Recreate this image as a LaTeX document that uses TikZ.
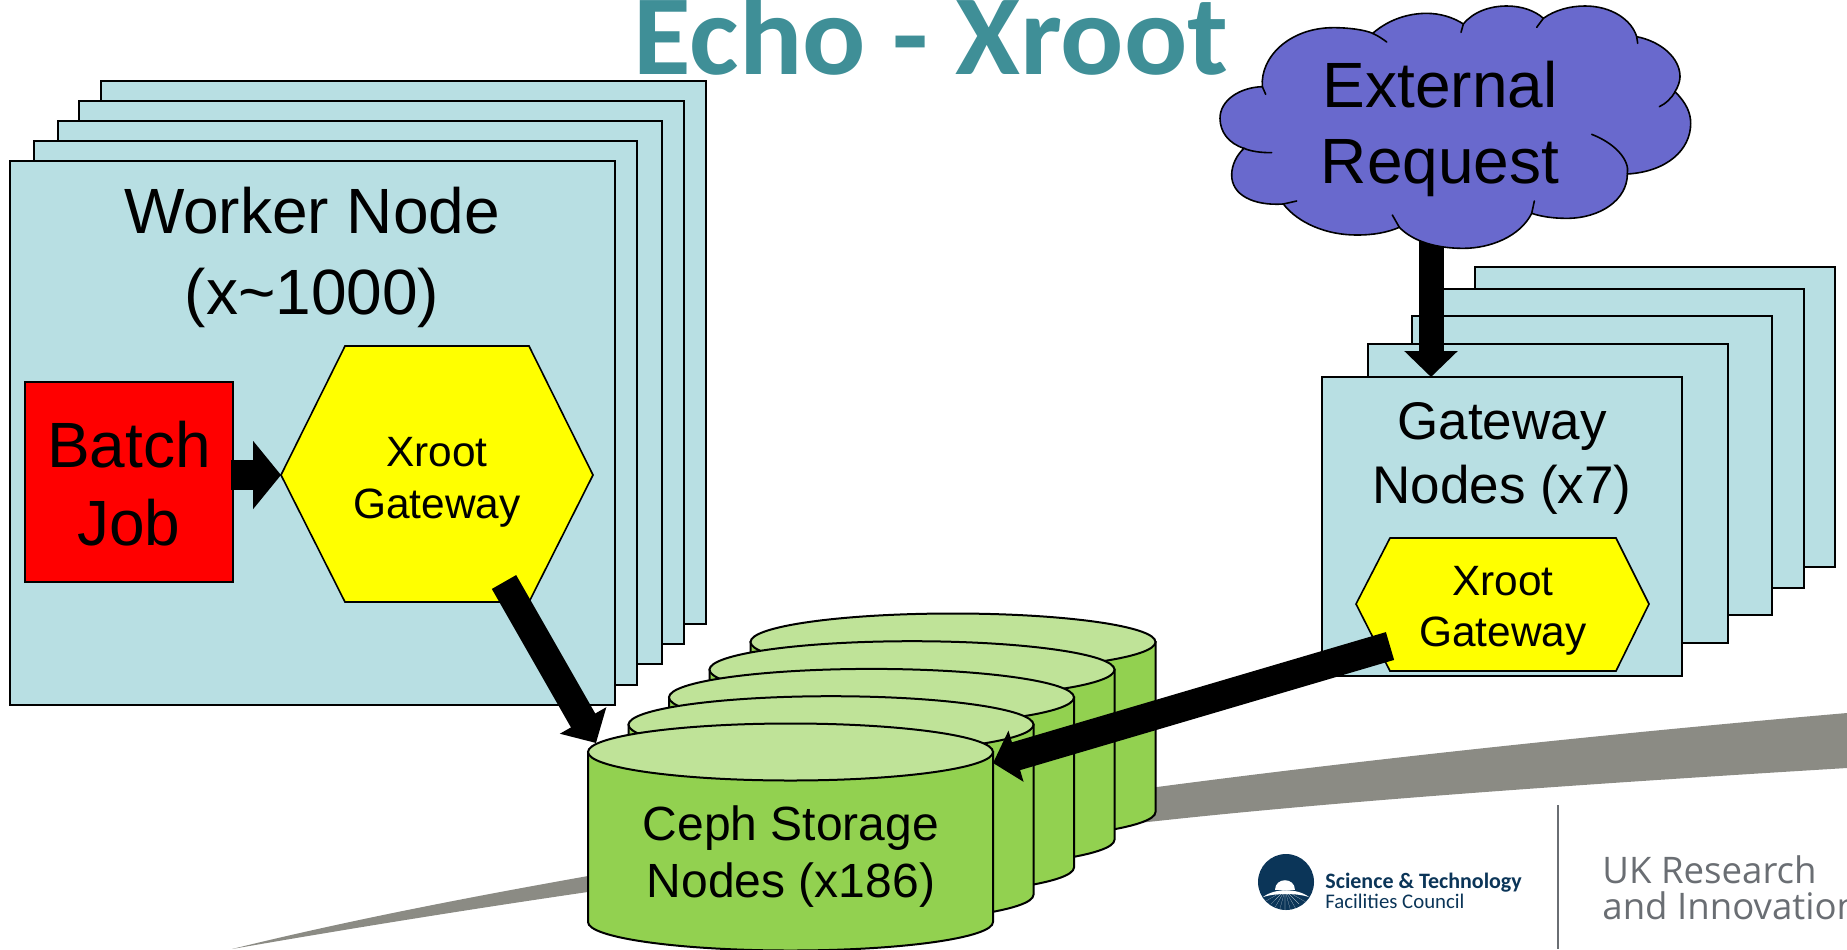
\documentclass[tikz,border=0pt]{standalone}
\usepackage{graphicx}
\usepackage{fontspec}
\setmainfont{Liberation Sans}
\newfontfamily\titlefont{Carlito}
\newfontfamily\brandfont{Open Sans}
\usetikzlibrary{arrows.meta,calc}
\definecolor{boxblue}{HTML}{B8DFE3}
\definecolor{cylside}{HTML}{92D150}
\definecolor{cyltop}{HTML}{BFE398}
\definecolor{cloudblue}{HTML}{6969CD}
\definecolor{titleteal}{HTML}{3F8F97}
\definecolor{swoosh}{HTML}{8B8B84}
\definecolor{navy}{HTML}{0B3558}
\definecolor{ukgrey}{HTML}{6A6E73}
\definecolor{hexyellow}{RGB}{255,255,0}
\definecolor{jobred}{RGB}{255,0,0}
\newcommand{\fs}[1]{\fontsize{\the\dimexpr #1pt/2\relax}{\the\dimexpr #1pt/2\relax}\selectfont}
\tikzset{
  x=0.5pt,y=-0.5pt,
  sheet/.style={draw=black,line width=1pt,fill=boxblue},
  hexa/.style={draw=black,line width=0.8pt,fill=hexyellow},
  big arrow/.style={draw=black,line width=#1,-{Triangle[length=13pt,width=26pt]}},
  big arrow/.default=14.5pt,
  txt/.style={inner sep=0pt,anchor=base,text=black},
}
\newcommand{\sheetbox}[4]{\path[sheet] (#1,#2) rectangle (#3,#4);}
\newcommand{\cyl}[2]{%
  \path[draw=black,line width=1pt,fill=cylside] (#1-202.5,#2) -- (#1-202.5,#2+170)
    .. controls (#1-202.5,#2+185.7) and (#1-111.8,#2+198.5) .. (#1,#2+198.5)
    .. controls (#1+111.8,#2+198.5) and (#1+202.5,#2+185.7) .. (#1+202.5,#2+170)
    -- (#1+202.5,#2) -- cycle;
  \path[draw=black,line width=1pt,fill=cyltop] (#1,#2) ellipse[x radius=202.5,y radius=28.5];}
\begin{document}
\begin{tikzpicture}
\useasboundingbox (0,0) rectangle (1847,949);
\clip (0,0) rectangle (1847,949);
% swoosh
\fill[swoosh] (232,949) .. controls (350,920) and (470,897) .. (588,876)
  .. controls (800,840) and (1000,805) .. (1157,787)
  .. controls (1400,755) and (1650,730) .. (1847,713)
  -- (1847,768) .. controls (1600,783) and (1350,800) .. (1157,821)
  .. controls (900,848) and (600,885) .. (232,949) -- cycle;
% title
\node[txt,text=titleteal,font={\titlefont\bfseries\fs{114}}] (title) at (931,74) {\scalebox{1.035}[1]{Echo - Xroot}};
% worker stack
\sheetbox{101}{81}{706}{624}
\sheetbox{79}{101}{684}{644}
\sheetbox{58}{121}{662}{664}
\sheetbox{34}{141}{637}{685}
\node[sheet,minimum width=302.5pt,minimum height=272pt,anchor=north west,inner sep=0pt,outer sep=0pt] (worker) at (10,161) {};
\node[txt,font=\fs{64}] (workerA) at (312,233) {Worker Node};
\node[txt,font=\fs{64}] (workerB) at (312,314) {(x\char`\~1000)};
\node[draw=black,line width=0.8pt,fill=jobred,minimum width=104pt,minimum height=100pt,anchor=north west,inner sep=0pt,outer sep=0pt] (batch) at (25,382) {};
\node[txt,font=\fs{64}] (batchA) at (129,467) {Batch};
\node[txt,font=\fs{64}] (batchB) at (129,545) {Job};
% worker gateway
\path[hexa] (281,475) -- (345,346) -- (529,346) -- (593,475) -- (529,602) -- (345,602) -- cycle;
\coordinate (wgwWest) at (281,475);
\coordinate (wgwOut) at (504,582);
\node[txt,font=\fs{42.4}] (wgwA) at (437,466) {Xroot};
\node[txt,font=\fs{42.4}] (wgwB) at (437,518) {Gateway};
\draw[big arrow=15pt,-{Triangle[length=14pt,width=33.5pt]},shorten <=-1pt] (batch.east |- wgwWest) -- (wgwWest);
% gateway stack
\sheetbox{1475}{267}{1835}{567}
\sheetbox{1443}{289}{1804}{588}
\sheetbox{1412}{316}{1772}{615}
\sheetbox{1368}{344}{1728}{643}
\node[sheet,minimum width=180pt,minimum height=149.5pt,anchor=north west,inner sep=0pt,outer sep=0pt] (gateway) at (1322,377) {};
\node[txt,font=\fs{53}] (gwA) at (1502,439) {Gateway};
\node[txt,font=\fs{53}] (gwB) at (1502,503) {Nodes (x7)};
\path[hexa] (1356,604) -- (1390,538) -- (1616,538) -- (1649,604) -- (1616,671) -- (1390,671) -- cycle;
\coordinate (ggwOut) at (1390,646);
\node[txt,font=\fs{42.4}] (ggwA) at (1503,595) {Xroot};
\node[txt,font=\fs{42.4}] (ggwB) at (1503,646) {Gateway};
% storage
\cyl{953}{642}
\cyl{912}{669.7}
\cyl{871.5}{697.4}
\cyl{831}{724.7}
\cyl{790.5}{752}
\coordinate (cephTop) at (596,743);
\coordinate (cephSide) at (993,763);
\node[txt,font=\fs{48}] (cephA) at (791,840) {Ceph Storage};
\node[txt,font=\fs{48}] (cephB) at (791,897) {Nodes (x186)};
% connectors to storage
\draw[big arrow=14pt] (wgwOut) -- (cephTop);
\draw[big arrow=14.5pt,-{Triangle[length=12pt,width=26pt]}] (ggwOut) -- (cephSide);
% cloud to gateway
\coordinate (cloudOut) at (1431,230);
\draw[big arrow=12.5pt] (cloudOut) -- (gateway.north -| cloudOut);
% cloud
\begin{scope}[shift={(1200,0)},x=0.16667pt,y=-0.16667pt]
\path[draw=black,line width=0.8pt,fill=cloudblue]
  (187,260) .. controls (180,170) and (270,83) .. (400,83)
  .. controls (450,83) and (495,90) .. (518,100)
  .. controls (570,55) and (630,40) .. (680,40)
  .. controls (720,40) and (760,52) .. (790,72)
  .. controls (820,35) and (870,18) .. (920,18)
  .. controls (965,18) and (1005,32) .. (1030,55)
  .. controls (1065,30) and (1110,18) .. (1155,18)
  .. controls (1235,18) and (1295,60) .. (1310,110)
  .. controls (1385,125) and (1440,175) .. (1440,230)
  .. controls (1440,245) and (1433,262) .. (1425,275)
  .. controls (1460,310) and (1472,340) .. (1472,370)
  .. controls (1472,450) and (1400,515) .. (1282,522)
  .. controls (1282,600) and (1200,655) .. (1100,655)
  .. controls (1060,655) and (1025,650) .. (995,640)
  .. controls (960,710) and (870,745) .. (790,745)
  .. controls (710,745) and (640,725) .. (598,682)
  .. controls (560,698) and (520,705) .. (470,705)
  .. controls (380,705) and (295,670) .. (250,612)
  .. controls (160,618) and (95,585) .. (95,525)
  .. controls (95,495) and (110,465) .. (132,445)
  .. controls (85,430) and (60,395) .. (60,355)
  .. controls (60,300) and (120,262) .. (187,260) -- cycle;
\draw[line width=0.8pt,line cap=round]
  (187,260) -- (197,283)
  (518,100) .. controls (535,108) and (550,118) .. (560,126)
  (790,72) -- (783,97)
  (1030,55) -- (1010,82)
  (1310,110) -- (1313,130)
  (1425,275) .. controls (1415,295) and (1395,312) .. (1378,320)
  (1175,403) .. controls (1245,430) and (1290,480) .. (1282,522)
  (995,640) -- (1003,603)
  (598,682) -- (577,645)
  (250,612) -- (290,603)
  (132,445) .. controls (155,455) and (185,458) .. (215,458);
\end{scope}
\node[txt,font=\fs{64}] (extA) at (1440,107) {External};
\node[txt,font=\fs{64}] (extB) at (1440,183) {Request};
% logos
\fill[navy] (1286,882) ellipse[x radius=28,y radius=28];
\foreach \a/\l in {-75/16,-60/24,-45/20,-30/26,-15/22,0/30,15/22,30/26,45/20,60/24,75/16}
  \fill[white] ($(1285,890)+({90+\a-4}:0.5*2)$) -- ($(1285,890)+({90+\a+4}:0.5*2)$) -- ($(1285,890)+({90+\a}:\l*1)$) -- cycle;
\fill[white] (1275,890) .. controls (1275,877) and (1295,877) .. (1295,890) -- cycle;
\fill[white] (1263,897) .. controls (1275,888) and (1297,888) .. (1309,897) .. controls (1297,893) and (1275,893) .. (1263,897) -- cycle;
\node[anchor=base west,inner sep=0pt,text=navy,font={\titlefont\bfseries\fs{22}}] (stfcA) at (1325,888) {Science \& Technology};
\node[anchor=base west,inner sep=0pt,text=navy,font={\titlefont\fs{20.8}}] (stfcB) at (1325,908) {Facilities Council};
\draw[ukgrey,line width=1.2pt] (1558,805) -- (1558,949);
\node[anchor=base west,inner sep=0pt,text=ukgrey,font={\brandfont\fs{36.6}}] (ukA) at (1602,883) {UK Research};
\node[anchor=base west,inner sep=0pt,text=ukgrey,font={\brandfont\fs{36.6}}] (ukB) at (1602,919) {and Innovation};
\end{tikzpicture}
\end{document}
